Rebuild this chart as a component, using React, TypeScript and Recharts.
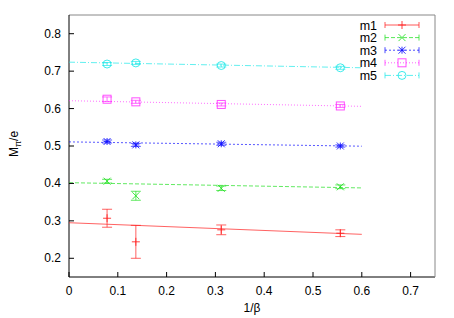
import { ComposedChart, Scatter, ErrorBar, XAxis, YAxis } from 'recharts';

// 1/beta values for the four lattices
const invBeta = [0.078, 0.137, 0.312, 0.556];

const m1 = [0.307, 0.244, 0.276, 0.267];
const m1Err = [0.024, 0.044, 0.013, 0.009];
const m2 = [0.406, 0.367, 0.387, 0.391];
const m2Err = [0.005, 0.012, 0.006, 0.005];
const m3 = [0.512, 0.503, 0.506, 0.5];
const m3Err = [0.004, 0.004, 0.004, 0.003];
const m4 = [0.625, 0.618, 0.611, 0.607];
const m4Err = [0.006, 0.004, 0.004, 0.004];
const m5 = [0.719, 0.722, 0.715, 0.709];
const m5Err = [0.004, 0.004, 0.004, 0.004];

// linear fits, evaluated at the ends of the fit range
const fitX = [0, 0.6];
const fit1 = [0.295, 0.264];
const fit2 = [0.402, 0.388];
const fit3 = [0.511, 0.4995];
const fit4 = [0.621, 0.606];
const fit5 = [0.724, 0.709];

const xTicks = [0, 0.1, 0.2, 0.3, 0.4, 0.5, 0.6, 0.7];
const yTicks = [0.2, 0.3, 0.4, 0.5, 0.6, 0.7, 0.8];

const FONT = '"Liberation Sans", Arial, sans-serif';

type Mark = 'plus' | 'cross' | 'star' | 'square' | 'circle';

interface SeriesDef {
  name: string;
  color: string;
  dash?: string;
  mark: Mark;
  y: number[];
  err: number[];
  fit: number[];
}

const series: SeriesDef[] = [
  { name: 'm1', color: '#ff2020', mark: 'plus', y: m1, err: m1Err, fit: fit1 },
  { name: 'm2', color: '#20e020', dash: '4 2', mark: 'cross', y: m2, err: m2Err, fit: fit2 },
  { name: 'm3', color: '#1010ff', dash: '2 2', mark: 'star', y: m3, err: m3Err, fit: fit3 },
  { name: 'm4', color: '#ff30ff', dash: '1 2', mark: 'square', y: m4, err: m4Err, fit: fit4 },
  { name: 'm5', color: '#20e8e8', dash: '6 2 1 2', mark: 'circle', y: m5, err: m5Err, fit: fit5 },
];

function Marker({ cx, cy, mark, color }: { cx: number; cy: number; mark: Mark; color: string }) {
  const p = { stroke: color, strokeWidth: 1, fill: 'none', strokeOpacity: 0.85 };
  switch (mark) {
    case 'plus': {
      const r = 4;
      return <path d={`M${cx - r},${cy}H${cx + r}M${cx},${cy - r}V${cy + r}`} {...p} />;
    }
    case 'cross': {
      const r = 3.5;
      return <path d={`M${cx - r},${cy - r}L${cx + r},${cy + r}M${cx - r},${cy + r}L${cx + r},${cy - r}`} {...p} />;
    }
    case 'star': {
      const r = 3.5;
      return (
        <path
          d={`M${cx - r},${cy - r}L${cx + r},${cy + r}M${cx - r},${cy + r}L${cx + r},${cy - r}M${cx - r},${cy}H${cx + r}M${cx},${cy - r}V${cy + r}`}
          {...p}
        />
      );
    }
    case 'square':
      return <rect x={cx - 4} y={cy - 4} width={8} height={8} {...p} />;
    default:
      return <circle cx={cx} cy={cy} r={4} {...p} />;
  }
}

function BottomTick(props: any) {
  const { x, y, payload } = props;
  return (
    <g>
      <line x1={x} y1={y} x2={x} y2={y - 5} stroke="#000" />
      <text x={x} y={y + 18} textAnchor="middle" fontSize={12} fontFamily={FONT} fill="#000">
        {payload.value}
      </text>
    </g>
  );
}

function TopTick(props: any) {
  const { x, y } = props;
  return <line x1={x} y1={y} x2={x} y2={y + 5} stroke="#000" />;
}

function LeftTick(props: any) {
  const { x, y, payload } = props;
  return (
    <g>
      <line x1={x} y1={y} x2={x + 5} y2={y} stroke="#000" />
      <text x={x - 8} y={y + 4} textAnchor="end" fontSize={12} fontFamily={FONT} fill="#000">
        {payload.value.toFixed(1)}
      </text>
    </g>
  );
}

function RightTick(props: any) {
  const { x, y } = props;
  return <line x1={x} y1={y} x2={x - 5} y2={y} stroke="#000" />;
}

function KeyBox() {
  return (
    <svg width={80} height={70} style={{ display: 'block' }}>
      {series.map((s, i) => {
        const cy = 8 + i * 12.6;
        return (
          <g key={s.name}>
            <text x={30} y={cy + 4.5} textAnchor="end" fontSize={12.5} fontFamily={FONT} fill="#000">
              {s.name}
            </text>
            <g strokeOpacity={0.75}>
              <line x1={38} y1={cy} x2={72} y2={cy} stroke={s.color} strokeDasharray={s.dash} />
              <line x1={38} y1={cy - 3} x2={38} y2={cy + 3} stroke={s.color} />
              <line x1={72} y1={cy - 3} x2={72} y2={cy + 3} stroke={s.color} />
            </g>
            <Marker cx={55} cy={cy} mark={s.mark} color={s.color} />
          </g>
        );
      })}
    </svg>
  );
}

export default function App() {
  return (
    <div style={{ position: 'absolute', left: 0, top: 0, width: 454, height: 318, background: '#fff' }}>
      <ComposedChart width={454} height={318} margin={{ top: 14, right: 18, bottom: 0, left: 0 }}>
        <XAxis
          xAxisId={0}
          dataKey="x"
          type="number"
          domain={[0, 0.75]}
          ticks={xTicks}
          height={41}
          tickSize={0}
          tickMargin={0}
          tickLine={false}
          tick={<BottomTick />}
          axisLine={{ stroke: '#000' }}
          label={{ value: '1/β', position: 'insideBottom', offset: 6, fontSize: 12, fontFamily: FONT, fill: '#000' }}
        />
        <XAxis
          xAxisId="top"
          orientation="top"
          dataKey="x"
          type="number"
          domain={[0, 0.75]}
          ticks={xTicks}
          height={1}
          tickSize={0}
          tickMargin={0}
          tickLine={false}
          tick={<TopTick />}
          axisLine={{ stroke: '#888' }}
        />
        <YAxis
          yAxisId={0}
          dataKey="y"
          type="number"
          domain={[0.15, 0.85]}
          ticks={yTicks}
          width={69}
          tickSize={0}
          tickMargin={0}
          tickLine={false}
          tick={<LeftTick />}
          axisLine={{ stroke: '#000' }}
          label={{
            content: (p: any) => {
              const cx = 18;
              const cy = p.viewBox.y + p.viewBox.height / 2 - 2;
              return (
                <text
                  transform={`translate(${cx},${cy}) rotate(-90)`}
                  textAnchor="middle"
                  fontSize={12}
                  fontFamily={FONT}
                  fill="#000"
                >
                  M
                  <tspan fontSize={9} dy={3}>π</tspan>
                  <tspan dy={-3}>/e</tspan>
                </text>
              );
            },
          }}
        />
        <YAxis
          yAxisId="right"
          orientation="right"
          dataKey="y"
          type="number"
          domain={[0.15, 0.85]}
          ticks={yTicks}
          width={1}
          tickSize={0}
          tickMargin={0}
          tickLine={false}
          tick={<RightTick />}
          axisLine={{ stroke: '#888' }}
        />
        {series.map((s) => (
          <Scatter
            key={s.name + '-fit'}
            name={s.name + ' fit'}
            data={fitX.map((x, i) => ({ x, y: s.fit[i] }))}
            line={{ stroke: s.color, strokeDasharray: s.dash, strokeWidth: 1, strokeOpacity: 0.7 }}
            shape={() => <g />}
            legendType="none"
            isAnimationActive={false}
          />
        ))}
        {series.map((s) => (
          <Scatter
            key={s.name}
            name={s.name}
            data={invBeta.map((x, i) => ({ x, y: s.y[i], err: s.err[i] }))}
            shape={(p: any) => <Marker cx={p.cx} cy={p.cy} mark={s.mark} color={s.color} />}
            isAnimationActive={false}
          >
            <ErrorBar
              dataKey="err"
              direction="y"
              width={5}
              stroke={s.color}
              strokeWidth={1}
              strokeOpacity={0.7}
              isAnimationActive={false}
            />
          </Scatter>
        ))}
      </ComposedChart>
      <div style={{ position: 'absolute', left: 347, top: 17 }}>
        <KeyBox />
      </div>
    </div>
  );
}
